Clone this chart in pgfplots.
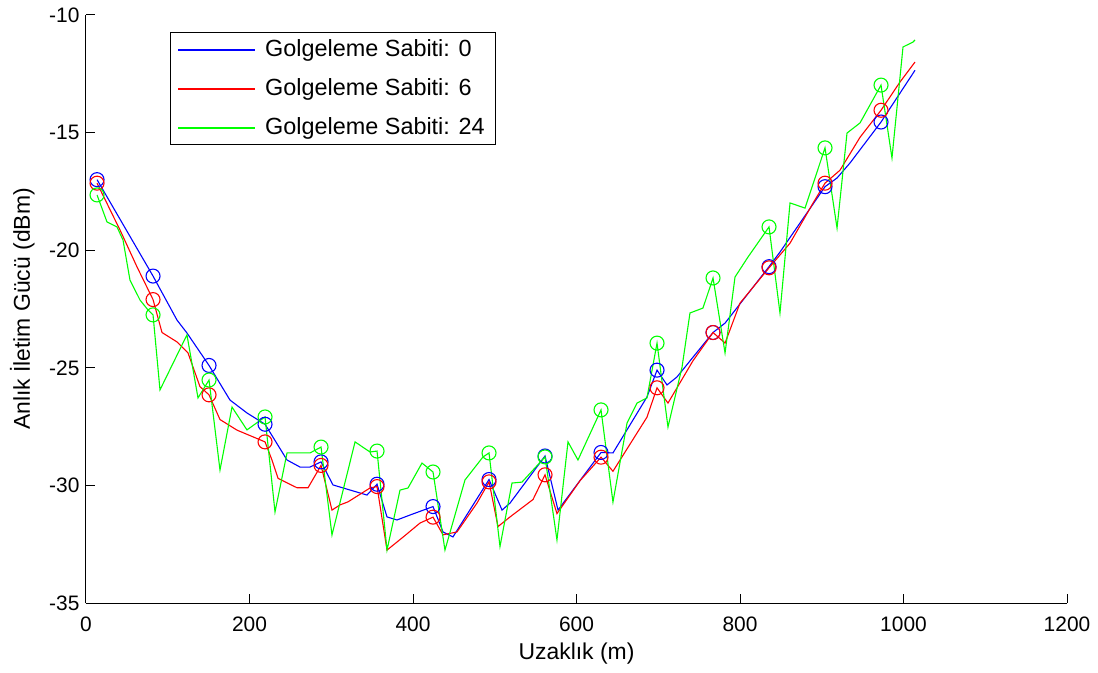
\documentclass[border=0pt]{standalone}
\usepackage{fontspec}
\setmainfont{Liberation Sans}
\usepackage{pgfplots}
\pgfplotsset{compat=1.18}
\definecolor{mblue}{rgb}{0,0,1}
\definecolor{mred}{rgb}{1,0,0}
\definecolor{mgreen}{rgb}{0,1,0}
\begin{document}
\begin{tikzpicture}
\begin{axis}[
  name=ax,
  scale only axis,
  width=981bp, height=588bp,
  xmin=0, xmax=1200, ymin=-35, ymax=-10,
  xtick={0,200,...,1200}, ytick={-35,-30,...,-10},
  axis lines=left,
  axis line style={-, line width=1bp, black},
  tick align=inside,
  major tick length=9bp,
  tick style={line width=1bp, black},
  /pgf/number format/assume math mode=true,
  /pgf/number format/1000 sep={},
  tick label style={font=\fontsize{21}{24}\selectfont},
  xticklabel style={yshift=-10bp},
  yticklabel style={xshift=-3bp},
  xlabel={Uzaklık (m)},
  ylabel={Anlık İletim Gücü (dBm)},
  every axis x label/.style={at={(axis description cs:0.5,-0.086)}, anchor=center, font=\fontsize{23}{26}\selectfont},
  every axis y label/.style={at={(axis description cs:-0.065,0.5)}, rotate=90, anchor=center, font=\fontsize{23}{26}\selectfont},
]
\addplot[color=mblue, line width=1.1bp, no marks] coordinates {
(13.5,-17.0) (82.0,-21.1) (111.3,-22.97) (123.5,-23.52) (150.5,-24.9)
(176.1,-26.37) (196.9,-26.92) (219.0,-27.4) (245.9,-28.92) (261.8,-29.22)
(274.0,-29.22) (287.5,-29.0) (302.1,-29.98) (310.7,-30.07) (343.7,-30.41)
(356.0,-29.95) (368.2,-31.34) (380.4,-31.47) (396.3,-31.26) (424.5,-30.9)
(436.7,-31.98) (448.9,-32.19) (493.0,-29.75) (508.9,-31.05) (518.7,-30.75)
(561.5,-28.75) (577.4,-31.05) (607.6,-29.64) (630.0,-28.6) (644.6,-28.62)
(686.2,-26.24) (698.5,-25.1) (710.7,-25.73) (722.9,-25.39) (767.0,-23.5)
(781.7,-23.1) (835.5,-20.7) (848.9,-20.08) (904.0,-17.3) (918.7,-16.93)
(934.6,-16.29) (972.5,-14.55) (1014.1,-12.35)
};
\addplot[color=mred, line width=1.1bp, no marks] coordinates {
(13.5,-17.15) (41.6,-19.14) (62.4,-20.71) (82.0,-22.1) (93.0,-23.5)
(111.3,-23.9) (124.8,-24.37) (139.4,-25.8) (150.5,-26.15) (163.9,-27.2)
(184.7,-27.65) (219.0,-28.15) (227.5,-28.92) (234.9,-29.7) (258.1,-30.1)
(271.6,-30.1) (287.5,-29.15) (300.9,-31.05) (310.7,-30.83) (320.5,-30.7)
(347.4,-30.11) (356.0,-30.05) (368.2,-32.75) (387.8,-32.2) (408.6,-31.6)
(424.5,-31.35) (436.7,-32.1) (453.8,-31.98) (478.3,-30.75) (493.0,-29.85)
(504.0,-31.75) (518.7,-31.34) (546.8,-30.6) (561.5,-29.55) (576.1,-31.2)
(604.3,-29.8) (630.0,-28.8) (644.6,-29.4) (686.2,-27.1) (698.5,-25.85)
(711.9,-26.5) (742.5,-24.7) (767.0,-23.5) (781.7,-23.95) (800.0,-22.25)
(835.5,-20.75) (861.2,-19.7) (889.3,-18.0) (904.0,-17.15) (922.3,-16.6)
(946.8,-15.2) (972.5,-14.05) (995.7,-12.85) (1014.1,-12.0)
};
\addplot[color=mgreen, line width=1.1bp, no marks] coordinates {
(13.5,-17.65) (25.7,-18.8) (37.9,-19.01) (45.3,-19.57) (53.8,-21.27)
(66.1,-22.12) (75.8,-22.54) (82.0,-22.75) (90.5,-25.94) (123.5,-23.6)
(137.0,-26.28) (150.5,-25.52) (163.9,-29.35) (178.6,-26.67) (196.9,-27.64)
(219.0,-27.09) (231.2,-31.13) (245.9,-28.62) (274.0,-28.62) (287.5,-28.37)
(300.9,-32.11) (329.1,-28.15) (347.4,-28.58) (356.0,-28.54) (368.2,-32.75)
(384.1,-30.2) (393.9,-30.11) (411.0,-29.05) (424.5,-29.43) (439.1,-32.75)
(463.6,-29.77) (485.6,-28.79) (493.0,-28.62) (506.4,-32.6) (521.1,-29.9)
(533.3,-29.86) (561.5,-28.79) (576.1,-32.32) (589.6,-28.15) (601.8,-28.92)
(630.0,-26.79) (644.6,-30.71) (661.8,-27.35) (674.0,-26.5) (686.2,-26.28)
(698.5,-23.95) (711.9,-27.52) (729.1,-24.97) (738.8,-22.67) (754.7,-22.46)
(767.0,-21.18) (781.7,-24.37) (793.9,-21.14) (809.8,-20.29) (835.5,-19.01)
(848.9,-22.67) (861.2,-17.99) (879.5,-18.21) (904.0,-15.65) (918.7,-19.06)
(930.9,-15.02) (946.8,-14.59) (972.5,-12.98) (985.9,-16.08) (999.4,-11.36)
(1011.6,-11.15) (1014.1,-11.06)
};
\addplot[color=mblue, line width=1.1bp, only marks, mark=o, mark size=7bp] coordinates {
(13.5,-17.0) (82.0,-21.1) (150.5,-24.9) (219.0,-27.4) (287.5,-29.0)
(356.0,-29.95) (424.5,-30.9) (493.0,-29.75) (561.5,-28.75) (630.0,-28.6)
(698.5,-25.1) (767.0,-23.5) (835.5,-20.7) (904.0,-17.3) (972.5,-14.55)
};
\addplot[color=mred, line width=1.1bp, only marks, mark=o, mark size=7bp] coordinates {
(13.5,-17.15) (82.0,-22.1) (150.5,-26.15) (219.0,-28.15) (287.5,-29.15)
(356.0,-30.05) (424.5,-31.35) (493.0,-29.85) (561.5,-29.55) (630.0,-28.8)
(698.5,-25.85) (767.0,-23.5) (835.5,-20.75) (904.0,-17.15) (972.5,-14.05)
};
\addplot[color=mgreen, line width=1.1bp, only marks, mark=o, mark size=7bp] coordinates {
(13.5,-17.65) (82.0,-22.75) (150.5,-25.52) (219.0,-27.09) (287.5,-28.37)
(356.0,-28.54) (424.5,-29.43) (493.0,-28.62) (561.5,-28.79) (630.0,-26.79)
(698.5,-23.95) (767.0,-21.18) (835.5,-19.01) (904.0,-15.65) (972.5,-12.98)
};
\end{axis}
% legend (drawn outside the matrix to keep colours right under xdvipdfmx)
\draw[black, line width=1bp, fill=white] ([shift={(84bp,-18bp)}]ax.north west) rectangle ([shift={(409bp,-130bp)}]ax.north west);
\draw[mblue, line width=1.1bp] ([shift={(92bp,-35bp)}]ax.north west) -- ([shift={(169bp,-35bp)}]ax.north west);
\draw[mred, line width=1.1bp] ([shift={(92bp,-74bp)}]ax.north west) -- ([shift={(169bp,-74bp)}]ax.north west);
\draw[mgreen, line width=1.1bp] ([shift={(92bp,-113bp)}]ax.north west) -- ([shift={(169bp,-113bp)}]ax.north west);
\node[anchor=west, inner sep=0pt, font=\fontsize{23.5}{26}\selectfont] at ([shift={(179bp,-35bp)}]ax.north west) {Golgeleme Sabiti: 0};
\node[anchor=west, inner sep=0pt, font=\fontsize{23.5}{26}\selectfont] at ([shift={(179bp,-74bp)}]ax.north west) {Golgeleme Sabiti: 6};
\node[anchor=west, inner sep=0pt, font=\fontsize{23.5}{26}\selectfont] at ([shift={(179bp,-113bp)}]ax.north west) {Golgeleme Sabiti: 24};
\pgfresetboundingbox
\path[use as bounding box] ([xshift=-86bp,yshift=-70bp]ax.south west) rectangle ([xshift=31bp,yshift=15bp]ax.north east);
\end{tikzpicture}
\end{document}
